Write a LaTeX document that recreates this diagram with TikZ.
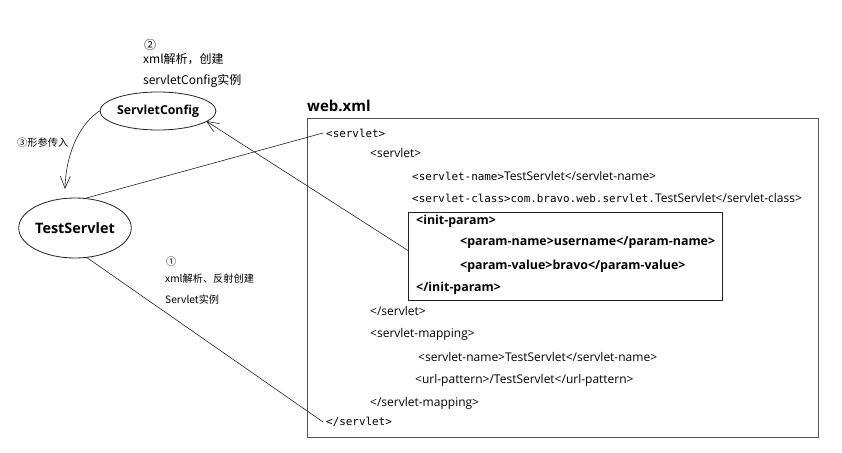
\documentclass[tikz,border=0pt]{standalone}
\usepackage{fontspec}
\setmainfont{Open Sans}
\setmonofont{DejaVu Sans Mono}
\newfontfamily\cjk{Noto Sans CJK SC}
\usetikzlibrary{shapes.geometric,arrows.meta}
\definecolor{ink}{HTML}{222222}
\definecolor{boxgray}{HTML}{555555}
\newcommand{\mtag}[1]{{\ttfamily\fontsize{10.9}{12}\selectfont #1}}
\begin{document}
\begin{tikzpicture}[x=1pt,y=-1pt,
  txt/.style={anchor=west,inner sep=0pt,text=black,font=\fontsize{12}{13}\selectfont},
  mono/.style={anchor=west,inner sep=0pt,text=black,font=\ttfamily\fontsize{10.9}{12}\selectfont},
  btxt/.style={anchor=west,inner sep=0pt,text=black,font=\bfseries\fontsize{12.4}{13}\selectfont},
  cjktxt/.style={anchor=west,inner sep=0pt,text=black,font=\cjk\fontsize{12}{13}\selectfont},
  cjksm/.style={anchor=west,inner sep=0pt,text=black,font=\cjk\fontsize{10.2}{12}\selectfont},
  oval/.style={ellipse,draw=ink,line width=0.8pt,inner sep=0pt},
  conn/.style={draw=ink,line width=0.6pt},
  barb/.style={-{Straight Barb[length=12pt,width=10pt,line width=0.6pt]}}
]
\useasboundingbox (0,0) rectangle (842,452);
\fill[white] (0,0) rectangle (842,452);

% labels top
\node[cjktxt] (n2) at (144,45) {②};
\node[cjktxt] (t2a) at (143,59) {xml解析，创建};
\node[cjktxt] (t2b) at (143,81) {servletConfig实例};
\node[cjksm] (n3) at (17,143) {③形参传入};
\node[cjksm] (n1) at (166,262) {①};
\node[cjksm] (t1a) at (165,279) {xml解析、反射创建};
\node[cjksm] (t1b) at (165,300) {Servlet实例};

% ellipses
\node[oval,minimum width=97pt,minimum height=38pt,font=\bfseries\fontsize{12.3}{14}\selectfont] (sc) at (158,111) {ServletConfig};
\node[oval,minimum width=105pt,minimum height=60pt,font=\bfseries\fontsize{14.4}{16}\selectfont] (ts) at (75,228) {TestServlet};

% web.xml
\node[btxt,font=\bfseries\fontsize{15}{16}\selectfont] (wx) at (307,106) {web.xml};
\node[draw=boxgray,line width=1.1pt,minimum width=511pt,minimum height=319pt,inner sep=0pt,anchor=north west] (outer) at (307,118) {};
\node[draw=ink,line width=1pt,minimum width=314pt,minimum height=88pt,inner sep=0pt,anchor=north west] (ib) at (408,212) {};

\node[mono] (l1) at (326,133) {<servlet>};
\node[txt] (l2) at (370,153) {<servlet>};
\node[txt] (l3) at (412,176) {\mtag{<servlet-name>}TestServlet</servlet-name>};
\node[txt] (l4) at (412,198) {\mtag{<servlet-class>com.bravo.web.servlet.}TestServlet</servlet-class>};
\node[btxt] (l5) at (416,221) {<init-param>};
\node[btxt] (l6) at (460,243) {<param-name>username</param-name>};
\node[btxt] (l7) at (460,266) {<param-value>bravo</param-value>};
\node[btxt] (l8) at (416,288) {</init-param>};
\node[txt] (l9) at (370,311) {</servlet>};
\node[txt] (l10) at (370,334) {<servlet-mapping>};
\node[txt] (l11) at (418,357) {<servlet-name>TestServlet</servlet-name>};
\node[txt] (l12) at (415,380) {<url-pattern>/TestServlet</url-pattern>};
\node[txt] (l13) at (370,403) {</servlet-mapping>};
\node[mono] (l14) at (326,422) {</servlet>};

% connectors
\coordinate (tsin) at (65,189);
\coordinate (scin) at (206,121);
\draw[conn,barb] (sc.west) .. controls (82,122) and (66,150) .. (tsin);
\draw[conn] (ts.70) -- ([xshift=-3pt]l1.west);
\draw[conn,barb] ([yshift=6pt]ib.west) -- (scin);
\draw[conn] (ts.-68) -- ([xshift=-3pt]l14.west);
\end{tikzpicture}
\end{document}
